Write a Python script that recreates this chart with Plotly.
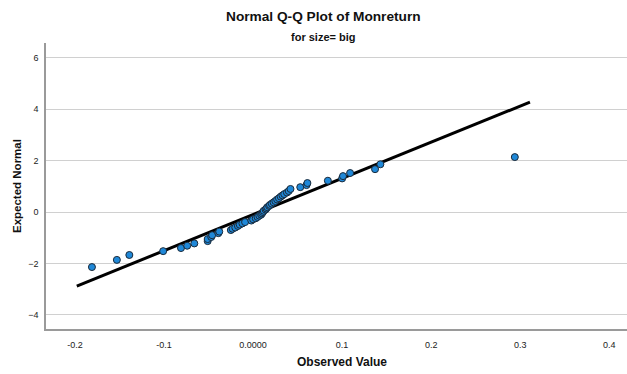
import plotly.graph_objects as go

observed = [-0.181, -0.153, -0.139, -0.101, -0.081, -0.074, -0.066, -0.051, -0.051, -0.047,
            -0.046, -0.039, -0.038, -0.025, -0.023, -0.020, -0.017, -0.015, -0.012, -0.009,
            -0.002, 0.000, 0.003, 0.005, 0.007, 0.009, 0.010, 0.011, 0.012, 0.014,
            0.015, 0.016, 0.018, 0.019, 0.021, 0.023, 0.025, 0.027, 0.029, 0.031,
            0.033, 0.035, 0.038, 0.040, 0.042, 0.053, 0.060, 0.061, 0.084, 0.100,
            0.101, 0.109, 0.137, 0.143, 0.294]
expected = [-2.14, -1.86, -1.67, -1.52, -1.40, -1.31, -1.22, -1.13, -1.05, -0.97,
            -0.90, -0.82, -0.76, -0.70, -0.65, -0.60, -0.54, -0.49, -0.44, -0.39,
            -0.33, -0.28, -0.24, -0.19, -0.14, -0.10, -0.05, 0.00, 0.05, 0.10,
            0.14, 0.19, 0.24, 0.28, 0.33, 0.38, 0.43, 0.49, 0.54, 0.60,
            0.65, 0.70, 0.76, 0.82, 0.90, 0.97, 1.05, 1.13, 1.22, 1.31,
            1.40, 1.52, 1.67, 1.86, 2.14]

line_x = [-0.198, 0.311]
line_y = [-2.88, 4.28]

x_tickvals = [-0.2, -0.1, 0.0, 0.1, 0.2, 0.3, 0.4]
x_ticktext = ["-0.2", "-0.1", "0.0000", "0.1", "0.2", "0.3", "0.4"]
y_tickvals = [-4, -2, 0, 2, 4, 6]

font = "Liberation Sans, Arial, sans-serif"

fig = go.Figure()
fig.add_trace(go.Scatter(x=line_x, y=line_y, mode="lines",
                         line=dict(color="black", width=3), hoverinfo="skip"))
fig.add_trace(go.Scatter(x=observed, y=expected, mode="markers",
                         marker=dict(size=7, color="#1f88d8",
                                     line=dict(color="#1a2a3a", width=1))))

fig.update_layout(
    width=627, height=374,
    margin=dict(l=46, r=0, t=43, b=45),
    paper_bgcolor="white", plot_bgcolor="white",
    showlegend=False,
    font=dict(family=font, size=9, color="#222"),
    xaxis=dict(range=[-0.2326, 0.420], tickvals=x_tickvals, ticktext=x_ticktext,
               showgrid=False, zeroline=False, showline=True, linecolor="#9a9a9a",
               linewidth=1.5, ticks="", ticklabelstandoff=6,
               tickfont=dict(size=9, color="#222")),
    yaxis=dict(range=[-4.55, 6.58], tickvals=y_tickvals,
               showgrid=True, gridcolor="#d0d0d0", gridwidth=1,
               zeroline=False, showline=True, linecolor="#9a9a9a", linewidth=1.5,
               ticks="", ticklabelstandoff=4,
               tickfont=dict(size=9, color="#222")),
    annotations=[
        dict(text="<b>Normal Q-Q Plot of Monreturn</b>", x=0.4768, y=1.091,
             xref="paper", yref="paper", showarrow=False,
             xanchor="center", yanchor="middle",
             font=dict(size=13.7, family=font, color="#111")),
        dict(text="<b>for size= big</b>", x=0.4768, y=1.021,
             xref="paper", yref="paper", showarrow=False,
             xanchor="center", yanchor="middle",
             font=dict(size=11, family=font, color="#111")),
        dict(text="<b>Observed Value</b>", x=0.5095, y=-0.115,
             xref="paper", yref="paper", showarrow=False,
             xanchor="center", yanchor="middle",
             font=dict(size=12, family=font, color="#111")),
        dict(text="<b>Expected Normal</b>", x=-0.0499, y=0.5,
             xref="paper", yref="paper", showarrow=False, textangle=-90,
             xanchor="center", yanchor="middle",
             font=dict(size=11.5, family=font, color="#111")),
    ],
)

fig.write_html("out.html")
